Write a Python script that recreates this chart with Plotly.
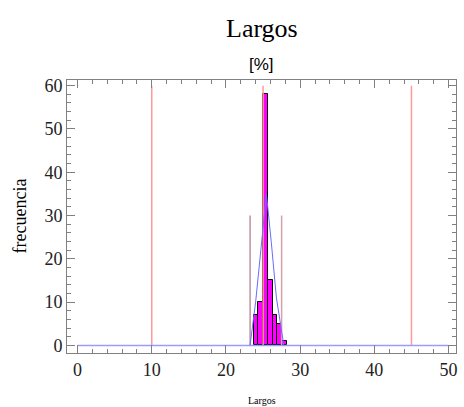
import plotly.graph_objects as go

# Histogram data (bin centres, counts)
bin_centers = [24.04, 24.68, 25.32, 25.96, 26.60, 27.24, 27.88]
counts = [7, 10, 58, 15, 7, 5, 1]
bin_width = 0.64

# Fitted curve
curve_x = [23.25, 24.0, 24.7, 25.45, 26.1, 26.8, 27.8]
curve_y = [0, 10, 22, 35, 24, 11, 0]

# Baseline
base_x = [0, 50]
base_y = [0, 0]

# Reference lines (red), height 60
ref_x = [10, 25, 45]
ref_top = 60

# Limit lines, height 30
lim_left = 23.25
lim_right = 27.5
lim_top = 30

fig = go.Figure()

rx, ry = [], []
for v in ref_x:
    rx += [v, v, None]
    ry += [0, ref_top, None]
fig.add_trace(go.Scatter(x=rx, y=ry, mode="lines", line=dict(color="#ff9a9a", width=1.5), hoverinfo="skip"))

fig.add_trace(go.Scatter(x=[lim_left, lim_left], y=[0, lim_top], mode="lines", line=dict(color="#a05a6a", width=1)))
fig.add_trace(go.Scatter(x=[lim_right, lim_right], y=[0, lim_top], mode="lines", line=dict(color="#d8a0a8", width=1.5)))

fig.add_trace(go.Bar(x=bin_centers, y=counts, width=bin_width,
                     marker=dict(color="#ff00ff", line=dict(color="#000000", width=1))))

fig.add_trace(go.Scatter(x=base_x, y=base_y, mode="lines", line=dict(color="#9a9aff", width=1.5)))
fig.add_trace(go.Scatter(x=curve_x, y=curve_y, mode="lines", line=dict(color="#6a6aff", width=1)))

axis_common = dict(
    showline=True, linecolor="#808080", linewidth=1, mirror="allticks",
    ticks="inside", ticklen=8, tickcolor="#808080", showgrid=False, zeroline=False,
    tickfont=dict(family="Liberation Serif", size=18, color="#222222"),
)

fig.update_xaxes(range=[-1.42, 51.0], tickvals=[0, 10, 20, 30, 40, 50],
                 minor=dict(ticks="inside", dtick=2, tick0=0, ticklen=4, tickcolor="#808080"),
                 **axis_common)
fig.update_yaxes(range=[-1.75, 61.3], tickvals=[0, 10, 20, 30, 40, 50, 60],
                 minor=dict(ticks="inside", dtick=2, tick0=0, ticklen=4, tickcolor="#808080"),
                 **axis_common)

fig.add_annotation(text="Largos", x=0.5, y=1.0, xref="paper", yref="paper", xanchor="center", yanchor="bottom",
                   yshift=35, showarrow=False, font=dict(family="Liberation Serif", size=26, color="#000000"))
fig.add_annotation(text="[%]", x=0.5, y=1.0, xref="paper", yref="paper", xanchor="center", yanchor="bottom",
                   yshift=4, showarrow=False, font=dict(family="Liberation Sans", size=17, color="#000000"))
fig.add_annotation(text="Largos", x=0.5, y=0, xref="paper", yref="paper", xanchor="center", yanchor="top",
                   yshift=-40, showarrow=False, font=dict(family="Liberation Serif", size=10, color="#000000"))
fig.add_annotation(text="frecuencia", x=0, y=0.5, xref="paper", yref="paper", xanchor="right", yanchor="middle",
                   xshift=-36, textangle=-90, showarrow=False,
                   font=dict(family="Liberation Serif", size=18, color="#000000"))

fig.update_layout(
    width=464, height=407,
    margin=dict(l=67, r=6, t=80, b=54),
    paper_bgcolor="white", plot_bgcolor="white",
    showlegend=False, bargap=0,
)

fig.write_html("out.html")
